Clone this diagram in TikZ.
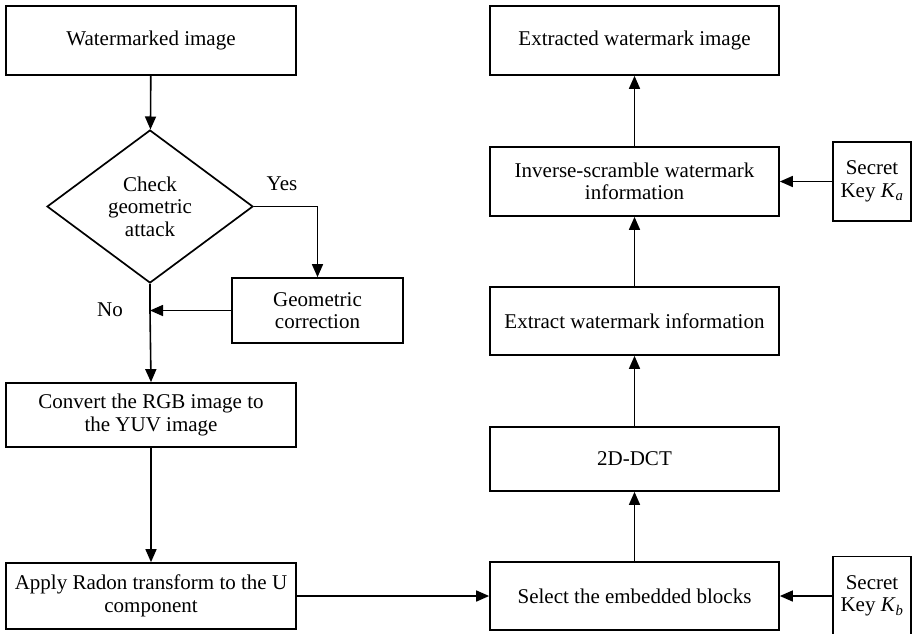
\documentclass[tikz,border=0pt]{standalone}
\usepackage{fontspec}
\setmainfont{Liberation Serif}
\usetikzlibrary{arrows,arrows.meta}
\usetikzlibrary{shapes.geometric}

\begin{document}
\begin{tikzpicture}[x=1pt,y=-1pt,
  font=\fontsize{21}{22.5}\selectfont,
  box/.style={draw,line width=1.7pt,rectangle,align=center,inner sep=0pt},
  arr/.style={line width=1.6pt,-{Triangle[length=13pt,width=11pt]}}]

\useasboundingbox (0,0) rectangle (912,633);

% left column
\node[box,minimum width=290,minimum height=69] (wm) at (151,40.5) {Watermarked image};
\node[draw,line width=1.7pt,diamond,inner sep=0pt,minimum width=206,minimum height=153,align=center]
  (chk) at (150,206.5) {Check\\geometric\\attack};
\node[box,minimum width=171,minimum height=65] (geo) at (317.5,310.5) {Geometric\\correction};
\node[box,minimum width=290,minimum height=64] (yuv) at (151,415) {Convert the RGB image to\\the YUV image};
\node[box,minimum width=290,minimum height=66] (radon) at (151,596) {Apply Radon transform to the U\\component};

% right column
\node[box,minimum width=289,minimum height=69] (out) at (634.5,40.5) {Extracted watermark image};
\node[box,minimum width=289,minimum height=69] (inv) at (634.5,181.5) {Inverse-scramble watermark\\information};
\node[box,minimum width=289,minimum height=68] (ext) at (634.5,321) {Extract watermark information};
\node[box,minimum width=289,minimum height=64] (dct) at (634.5,459) {2D-DCT};
\node[box,minimum width=289,minimum height=68] (sel) at (634.5,596) {Select the embedded blocks};
\node[box,minimum width=78,minimum height=79] (ka) at (872,181.5) {Secret\\Key \textit{K}\textsubscript{\itshape a}};
\node[box,minimum width=78,minimum height=79] (kb) at (872,596) {Secret\\Key \textit{K}\textsubscript{\itshape b}};

\draw[arr] (wm) -- (chk);
\draw[arr] (chk.east) -| (geo.north);
\node (yes) at (282,184) {Yes};
\draw[line width=1.6pt] (chk.south) -- (chk.south |- geo.west);
\draw[arr] (chk.south |- geo.west) -- (yuv.north);
\draw[arr] (geo.west) -- (chk.south |- geo.west);
\node (no) at (110,310) {No};
\draw[arr] (yuv) -- (radon);
\draw[arr] (radon) -- (sel);

\draw[arr] (sel) -- (dct);
\draw[arr] (dct) -- (ext);
\draw[arr] (ext) -- (inv);
\draw[arr] (inv) -- (out);
\draw[arr] (ka) -- (inv);
\draw[arr] (kb) -- (sel);

\end{tikzpicture}
\end{document}
